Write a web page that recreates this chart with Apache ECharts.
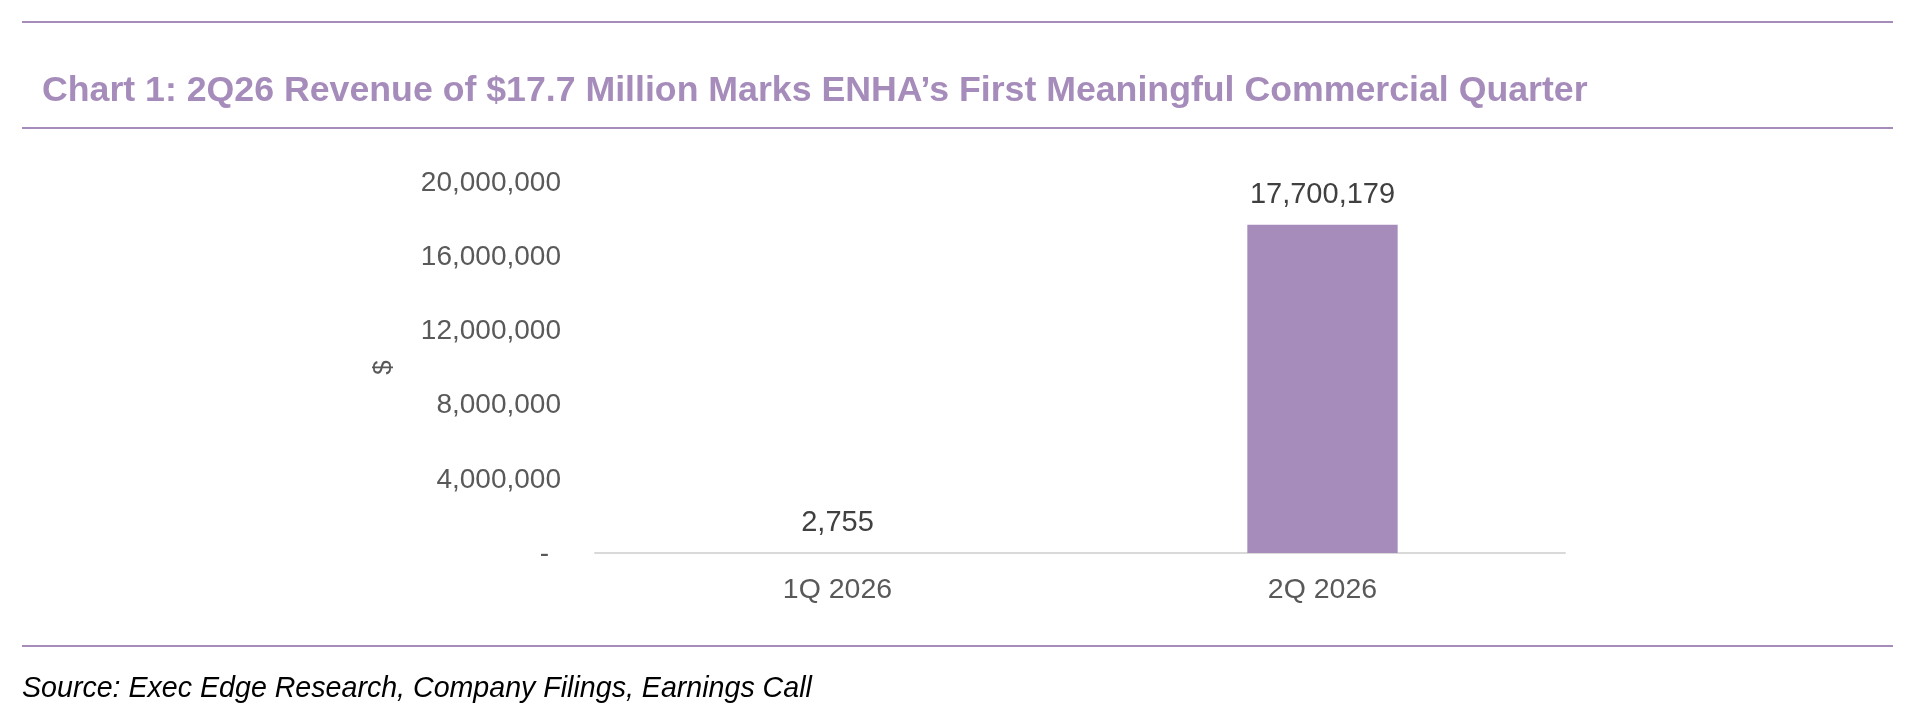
<!DOCTYPE html>
<html>
<head>
<meta charset="utf-8">
<script src="https://cdn.jsdelivr.net/npm/echarts@6/dist/echarts.min.js"></script>
<style>
  html, body { margin: 0; padding: 0; background: #fff; }
  #chart { width: 1911px; height: 711px; }
</style>
</head>
<body>
<div id="chart"></div>
<script>
// 季度与收入数据
var quarters = ['1Q 2026', '2Q 2026'];
var revenue = [2755, 17700179];
var yTicks = [0, 4000000, 8000000, 12000000, 16000000, 20000000];

var titleText = 'Chart 1: 2Q26 Revenue of $17.7 Million Marks ENHA\u2019s First Meaningful Commercial Quarter';
var sourceText = 'Source: Exec Edge Research, Company Filings, Earnings Call';

var purple = '#a68cbb';
var font = 'Liberation Sans, Arial, sans-serif';

// 千分位格式
function formatNum(v) {
    return String(v).replace(/\B(?=(\d{3})+(?!\d))/g, ',');
}

var chart = echarts.init(document.getElementById('chart'));

var option = {
    animation: false,
    title: {
        text: titleText,
        left: 42,
        top: 73,
        padding: 0,
        textStyle: {
            color: purple,
            fontFamily: font,
            fontWeight: 'bold',
            fontSize: 35.7
        }
    },
    grid: {
        left: 595,
        right: 346,
        top: 182,
        bottom: 158
    },
    xAxis: {
        type: 'category',
        data: quarters,
        axisLine: { lineStyle: { color: '#d9d9d9', width: 2 } },
        axisTick: { show: false },
        axisLabel: {
            color: '#595959',
            fontFamily: font,
            fontSize: 28.5,
            margin: 23
        }
    },
    yAxis: {
        type: 'value',
        min: yTicks[0],
        max: yTicks[yTicks.length - 1],
        interval: yTicks[1] - yTicks[0],
        name: '$',
        nameLocation: 'middle',
        nameGap: 198,
        nameRotate: 90,
        nameTextStyle: {
            color: '#595959',
            fontFamily: font,
            fontSize: 26
        },
        splitLine: { show: false },
        axisLine: { show: false },
        axisTick: { show: false },
        axisLabel: {
            color: '#595959',
            fontFamily: font,
            fontSize: 28,
            margin: 34,
            verticalAlign: 'middle',
            lineHeight: 28,
            padding: [2, 0, 0, 0],
            formatter: function (v) {
                if (v === 0) return '{d|-}';
                return formatNum(v);
            },
            rich: {
                d: {
                    color: '#595959',
                    fontFamily: font,
                    fontSize: 28,
                    padding: [0, 12, 0, 0]
                }
            }
        }
    },
    series: [{
        type: 'bar',
        data: revenue,
        barWidth: '31%',
        itemStyle: { color: purple },
        label: {
            show: true,
            position: 'top',
            distance: 15,
            color: '#404040',
            fontFamily: font,
            fontSize: 29,
            formatter: function (p) {
                return formatNum(p.value);
            }
        }
    }],
    graphic: [
        {
            type: 'line',
            shape: { x1: 22, y1: 22, x2: 1893, y2: 22 },
            style: { stroke: purple, lineWidth: 2 }
        },
        {
            type: 'line',
            shape: { x1: 22, y1: 128, x2: 1893, y2: 128 },
            style: { stroke: purple, lineWidth: 2 }
        },
        {
            type: 'line',
            shape: { x1: 22, y1: 646, x2: 1893, y2: 646 },
            style: { stroke: purple, lineWidth: 2 }
        },
        {
            type: 'text',
            left: 22,
            top: 675,
            style: {
                text: sourceText,
                fill: '#000',
                font: 'italic 28.6px ' + font
            }
        }
    ]
};

chart.setOption(option);
</script>
</body>
</html>
